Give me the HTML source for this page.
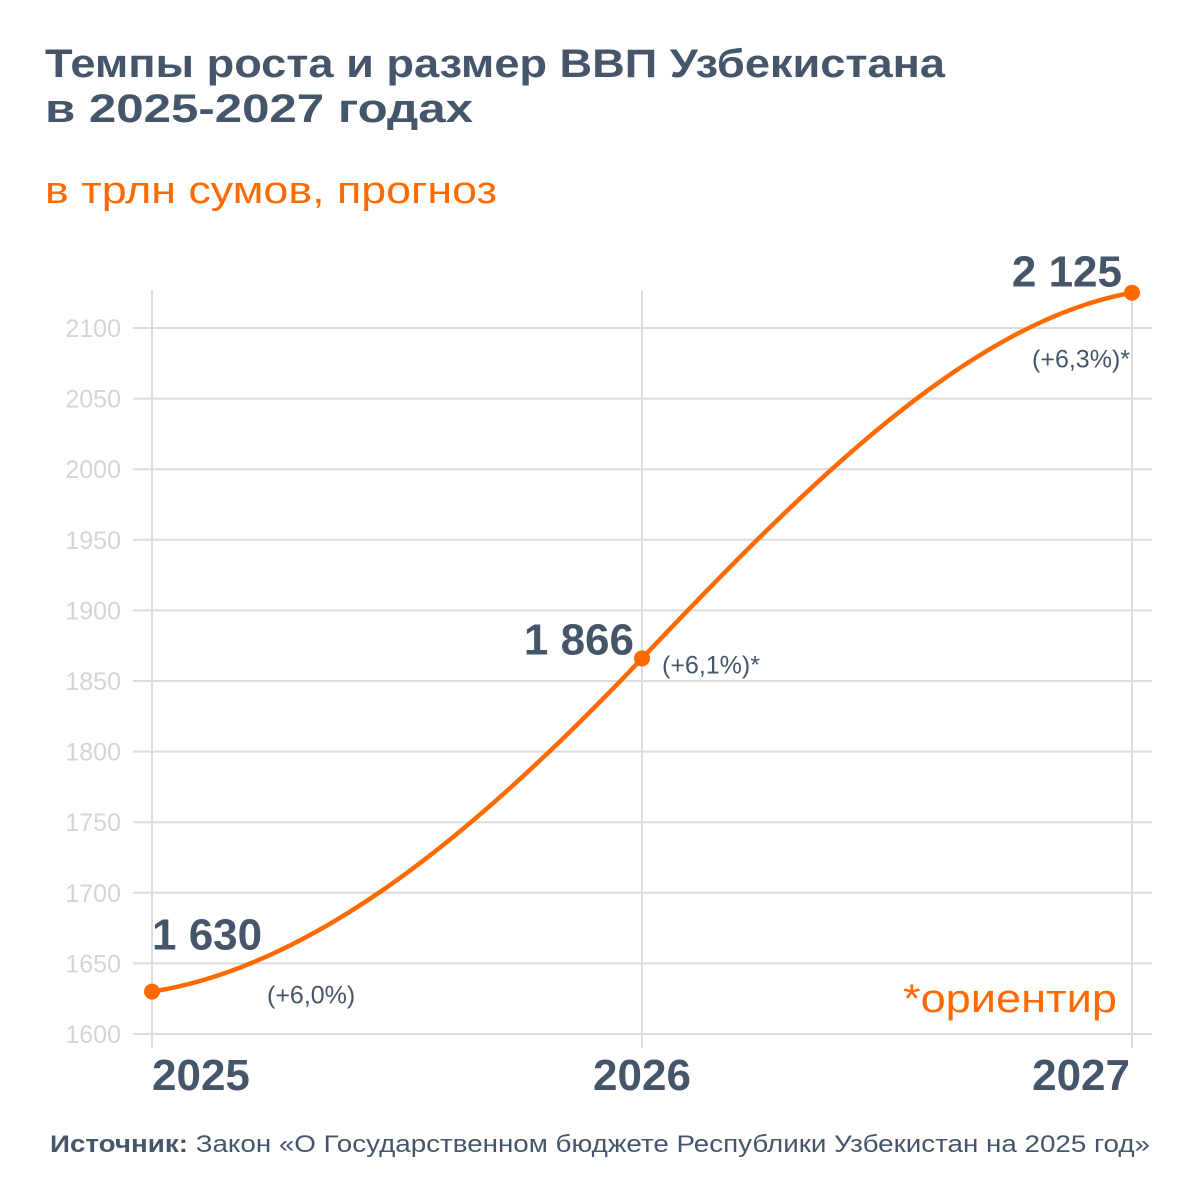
<!DOCTYPE html>
<html><head><meta charset="utf-8"><style>
html,body{margin:0;padding:0;background:#fff;}
svg{display:block;font-family:"Liberation Sans",sans-serif;}
</style></head><body>
<svg id="chart" width="1200" height="1200" viewBox="0 0 1200 1200">
<text x="45" y="77" font-size="40" font-weight="bold" fill="#46566a" textLength="900" lengthAdjust="spacingAndGlyphs">Темпы роста и размер ВВП Узбекистана</text>
<text x="45" y="122" font-size="40" font-weight="bold" fill="#46566a" textLength="428" lengthAdjust="spacingAndGlyphs">в 2025-2027 годах</text>
<text x="45" y="203" font-size="38" fill="#ff6a00" textLength="452" lengthAdjust="spacingAndGlyphs">в трлн сумов, прогноз</text>
<g id="grid"></g>
<g id="marks"></g>
<text x="1117" y="1012" font-size="40" fill="#ff6a00" text-anchor="end" textLength="214" lengthAdjust="spacingAndGlyphs">*ориентир</text>
<text x="50" y="1152" font-size="24" fill="#46566a" textLength="1100" lengthAdjust="spacingAndGlyphs"><tspan font-weight="bold">Источник:</tspan> Закон «О Государственном бюджете Республики Узбекистан на 2025 год»</text>
</svg>
<script>
const years = ['2025','2026','2027'];
const values = [1630, 1866, 2125];
const valueLabels = ['1 630','1 866','2 125'];
const growthLabels = ['(+6,0%)','(+6,1%)*','(+6,3%)*'];
const yTicks = [1600,1650,1700,1750,1800,1850,1900,1950,2000,2050,2100];

const NS='http://www.w3.org/2000/svg';
const x = i => 152 + i*490;
const y = v => 1034 - (v-1600)*706/500;
function mk(tag, attrs, parent, txt){
  const e=document.createElementNS(NS,tag);
  for(const k in attrs) e.setAttribute(k,attrs[k]);
  if(txt!==undefined) e.textContent=txt;
  parent.appendChild(e); return e;
}
const grid=document.getElementById('grid'), marks=document.getElementById('marks');
yTicks.forEach(t=>{
  const l=mk('line',{x1:133,x2:1152,y1:y(t),y2:y(t),stroke:'#dcdcdc','stroke-width':2},grid);
  
  
  const tx=mk('text',{x:121,y:y(t)+9,'font-size':25,fill:'#d4d4d4','text-anchor':'end'},grid,String(t));
  
  
});
years.forEach((yr,i)=>{
  const l=mk('line',{x1:x(i),x2:x(i),y1:290,y2:1048,stroke:'#dcdcdc','stroke-width':2},grid);
  
  
  const anchor = i===0?'start':(i===1?'middle':'end');
  const tx=mk('text',{x:x(i)+(i===0?0:(i===2?-2:0)),y:1090,'font-size':44,'font-weight':'bold',fill:'#46566a','text-anchor':anchor},grid,yr);
  
  
});
// smooth curve (Hermite -> Bezier)
const pts=values.map((v,i)=>[x(i),y(v)]);
const sec=[]; for(let i=0;i<pts.length-1;i++) sec.push(pts[i+1][1]-pts[i][1]);
const m=pts.map((p,i)=>{
  if(i===0) return sec[0]*0.23;
  if(i===pts.length-1) return sec[sec.length-1]*0.24;
  return (sec[i-1]+sec[i])/2*1.48;
});
let d='M'+pts[0][0]+','+pts[0][1];
for(let i=0;i<pts.length-1;i++){
  const dx=pts[i+1][0]-pts[i][0];
  d+=' C'+(pts[i][0]+dx/3)+','+(pts[i][1]+m[i]/3)+' '+(pts[i+1][0]-dx/3)+','+(pts[i+1][1]-m[i+1]/3)+' '+pts[i+1][0]+','+pts[i+1][1];
}
const path=mk('path',{d:d,fill:'none',stroke:'#ff6a00','stroke-width':4.5},marks);


const vPos=[{dx:0,dy:-42,a:'start'},{dx:-8,dy:-4,a:'end'},{dx:-10,dy:-6,a:'end'}];
const gPos=[{dx:115,dy:12,a:'start'},{dx:20,dy:15,a:'start'},{dx:-2,dy:75,a:'end'}];
pts.forEach((p,i)=>{
  const c=mk('circle',{cx:p[0],cy:p[1],r:8,fill:'#ff6a00'},marks);
  
  
  const vl=mk('text',{x:p[0]+vPos[i].dx,y:p[1]+vPos[i].dy,'font-size':44,'font-weight':'bold',fill:'#46566a','text-anchor':vPos[i].a},marks,valueLabels[i]);
  
  
  const gl=mk('text',{x:p[0]+gPos[i].dx,y:p[1]+gPos[i].dy,'font-size':25,fill:'#46566a','text-anchor':gPos[i].a},marks,growthLabels[i]);
  
  
});
</script>
</body></html>
